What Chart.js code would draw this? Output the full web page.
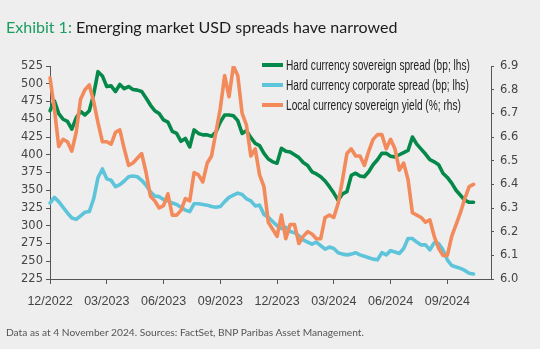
<!DOCTYPE html>
<html>
<head>
<meta charset="utf-8">
<script src="https://cdn.jsdelivr.net/npm/chart.js@4.4.1/dist/chart.umd.min.js"></script>
<style>
  body { margin: 0; background: #eeeeee; }
  #wrap { position: relative; width: 540px; height: 349px; overflow: hidden; }
  #title { position: absolute; left: 6px; top: 17px; font: 16px Lato, sans-serif; color: #1c1c1c; white-space: nowrap; }
  #title span { color: #1a9d5f; }
  #note { position: absolute; left: 6px; top: 326px; font: 10.2px Lato, sans-serif; color: #555; white-space: nowrap; }
  canvas { position: absolute; left: 0; top: 0; }
</style>
</head>
<body>
<div id="wrap">
  <canvas id="chart" width="540" height="349"></canvas>
  <div id="title"><span>Exhibit 1:</span> Emerging market USD spreads have narrowed</div>
  <div id="note">Data as at 4 November 2024. Sources: FactSet, BNP Paribas Asset Management.</div>
</div>
<script>
// weekly observations, Dec 2022 - Oct 2024 (a few empty weeks at the end for spacing)
const weeks = [];
const firstWeek = Date.UTC(2022, 11, 2);
for (let i = 0; i < 102; i++) {
    weeks.push(new Date(firstWeek + i * 7 * 86400000).toISOString().slice(0, 10));
}

const tickLabels = ['12/2022', '03/2023', '06/2023', '09/2023', '12/2023', '03/2024', '06/2024', '09/2024'];
const weeksPerTick = 13;

// Hard currency sovereign spread (bp, lhs)
const sovereignSpread = [
    462, 476, 458, 450, 447, 436, 452, 461, 456, 462,
    485, 517, 511, 496, 497, 489, 499, 493, 496, 492,
    491, 489, 480, 470, 462, 458, 449, 446, 433, 430,
    419, 423, 411, 435, 430, 428, 428, 426, 432, 446,
    456, 456, 455, 448, 430, 434, 424, 416, 413, 402,
    394, 390, 388, 409, 405, 404, 400, 396, 389, 385,
    376, 373, 369, 363, 355, 346, 336, 345, 348, 371,
    374, 370, 369, 376, 386, 393, 402, 402, 398, 397,
    400, 403, 406, 425, 415, 408, 401, 393, 390, 386,
    374, 368, 360, 350, 343, 336, 333, 333
];

// Hard currency corporate spread (bp, lhs)
const corporateSpread = [
    332, 340, 334, 326, 318, 311, 309, 314, 319, 320,
    338, 368, 380, 366, 364, 355, 358, 363, 369, 370,
    369, 364, 357, 348, 342, 341, 337, 335, 332, 330,
    326, 322, 320, 331, 331, 330, 329, 327, 326, 327,
    334, 340, 343, 346, 344, 338, 335, 328, 329, 316,
    312, 306, 300, 296, 298, 292, 290, 286, 280, 277,
    274, 277, 272, 267, 270, 268, 262, 260, 259, 260,
    262, 259, 257, 255, 253, 252, 262, 259, 265, 263,
    261, 268, 282, 282, 277, 273, 273, 266, 276, 275,
    266, 252, 244, 242, 240, 237, 233, 232
];

// Local currency sovereign yield (%, rhs)
const localYield = [
    6.85, 6.72, 6.56, 6.59, 6.58, 6.54, 6.62, 6.76, 6.80, 6.82,
    6.75, 6.66, 6.58, 6.58, 6.57, 6.62, 6.63, 6.55, 6.48, 6.49,
    6.51, 6.53, 6.45, 6.35, 6.33, 6.30, 6.31, 6.36, 6.27, 6.27,
    6.29, 6.34, 6.33, 6.45, 6.44, 6.41, 6.49, 6.52, 6.62, 6.72,
    6.86, 6.77, 6.90, 6.86, 6.70, 6.65, 6.52, 6.55, 6.44, 6.39,
    6.24, 6.21, 6.18, 6.27, 6.17, 6.23, 6.23, 6.15, 6.18, 6.20,
    6.19, 6.17, 6.17, 6.26, 6.27, 6.26, 6.32, 6.42, 6.53, 6.55,
    6.52, 6.52, 6.48, 6.54, 6.59, 6.61, 6.61, 6.55, 6.59, 6.55,
    6.46, 6.49, 6.42, 6.28, 6.27, 6.26, 6.24, 6.25, 6.18, 6.13,
    6.10, 6.10, 6.18, 6.23, 6.28, 6.34, 6.39, 6.40
];

const GREEN = '#05894a';
const BLUE = '#5ec4da';
const ORANGE = '#f38a5b';
const AXIS = '#555555';
const TEXT = '#444444';

// legend drawn inside the plot, top right (condensed text)
const legendBox = {
    id: 'legendBox',
    afterDraw(chart) {
        const ctx = chart.ctx;
        const x = 262;
        ctx.save();
        ctx.textBaseline = 'middle';
        chart.data.datasets.forEach((ds, row) => {
            const y = 65 + row * 20;
            ctx.strokeStyle = ds.borderColor;
            ctx.lineWidth = 4;
            ctx.beginPath();
            ctx.moveTo(x, y);
            ctx.lineTo(x + 21, y);
            ctx.stroke();
            ctx.save();
            ctx.translate(x + 24, y);
            ctx.scale(0.7, 1);
            ctx.font = '14.5px "Liberation Sans", Arial, sans-serif';
            ctx.fillStyle = '#222222';
            ctx.fillText(ds.label, 0, 1);
            ctx.restore();
        });
        ctx.restore();
    }
};

const ctx = document.getElementById('chart').getContext('2d');
new Chart(ctx, {
    type: 'line',
    data: {
        labels: weeks,
        datasets: [
            { label: 'Hard currency sovereign spread (bp; lhs)', data: sovereignSpread, yAxisID: 'y', borderColor: GREEN, order: 1 },
            { label: 'Hard currency corporate spread (bp; lhs)', data: corporateSpread, yAxisID: 'y', borderColor: BLUE, order: 2 },
            { label: 'Local currency sovereign yield (%; rhs)', data: localYield, yAxisID: 'y1', borderColor: ORANGE, order: 0 }
        ]
    },
    options: {
        responsive: false,
        animation: false,
        devicePixelRatio: 1,
        layout: { padding: { top: 66, left: 0, right: 0, bottom: 0 } },
        elements: {
            line: { borderWidth: 3.6, tension: 0, borderJoinStyle: 'round', borderCapStyle: 'round' },
            point: { radius: 0, hoverRadius: 0 }
        },
        plugins: {
            legend: { display: false },
            tooltip: { enabled: false }
        },
        scales: {
            x: {
                type: 'category',
                grid: { drawOnChartArea: false, tickLength: 5, color: AXIS },
                border: { color: AXIS },
                afterBuildTicks: (scale) => {
                    scale.ticks = scale.ticks.filter(t => t.value % weeksPerTick === 0 && t.value / weeksPerTick < tickLabels.length);
                },
                ticks: {
                    autoSkip: false,
                    maxRotation: 0,
                    padding: 10,
                    color: TEXT,
                    font: { family: '"Liberation Sans", Arial, sans-serif', size: 12.5 },
                    callback: (value) => tickLabels[value / weeksPerTick]
                },
                afterFit: (scale) => { scale.height = 70; }
            },
            y: {
                position: 'left',
                min: 225,
                max: 525,
                grid: { drawOnChartArea: false, tickLength: 4, color: AXIS },
                border: { color: AXIS },
                ticks: {
                    stepSize: 25,
                    padding: 3,
                    color: TEXT,
                    font: { family: '"DejaVu Sans", sans-serif', size: 11.5 }
                },
                afterFit: (scale) => { scale.width = 50; }
            },
            y1: {
                position: 'right',
                min: 6.0,
                max: 6.9,
                grid: { drawOnChartArea: false, tickLength: 3, color: AXIS },
                border: { color: AXIS },
                ticks: {
                    stepSize: 0.1,
                    padding: 6,
                    color: TEXT,
                    font: { family: '"DejaVu Sans", sans-serif', size: 11.5 },
                    callback: (value) => value.toFixed(1)
                },
                afterFit: (scale) => { scale.width = 49; }
            }
        }
    },
    plugins: [legendBox]
});
</script>
</body>
</html>
